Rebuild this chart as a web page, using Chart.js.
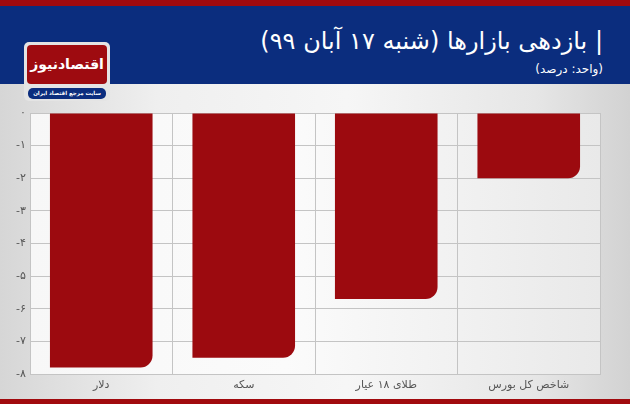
<!DOCTYPE html>
<html lang="fa">
<head>
<meta charset="utf-8">
<script src="https://cdn.jsdelivr.net/npm/chart.js@4/dist/chart.umd.min.js"></script>
<style>
  html, body { margin: 0; padding: 0; }
  body {
    width: 630px; height: 404px; overflow: hidden; position: relative;
    background: linear-gradient(to right, #d6d6d6 0%, #efefef 25%, #f6f6f6 55%, #e6e6e6 85%, #d2d2d2 100%);
    font-family: "DejaVu Sans", sans-serif;
  }
  .topline { position: absolute; left: 0; top: 0; width: 630px; height: 6px; background: #a10a0e; }
  .header { position: absolute; left: 0; top: 6px; width: 630px; height: 78px; background: #0b2d7e; }
  .title {
    position: absolute; right: 27px; top: 21px; color: #fff; font-size: 24px;
    direction: rtl; white-space: nowrap;
  }
  .unit {
    position: absolute; right: 27px; top: 56px; color: #fff; font-size: 12px;
    direction: rtl; white-space: nowrap;
  }
  .logo {
    position: absolute; left: 24px; top: 42px; width: 86px; height: 59px;
    background: #e4e4e4; border-radius: 5px;
  }
  .logo .box {
    position: absolute; left: 3px; top: 3px; width: 80px; height: 39px;
    background: #9e0b10; border-radius: 4px; color: #fff; font-weight: bold;
    font-size: 14px; text-align: center; line-height: 39px; direction: rtl;
    white-space: nowrap; overflow: hidden;
  }
  .logo .pill {
    position: absolute; left: 4px; top: 46px; width: 78px; height: 11px;
    background: #0b2d7e; border-radius: 5px; color: #fff; font-size: 5.5px;
    font-weight: bold; text-align: center; line-height: 11px; direction: rtl;
    white-space: nowrap; overflow: hidden;
  }
  .bottomline { position: absolute; left: 0; top: 399px; width: 630px; height: 5px; background: #a10a0e; }
  #wrap { position: absolute; left: 0; top: 100px; width: 630px; height: 300px; }
</style>
</head>
<body>
<div class="topline"></div>
<div class="header">
  <div class="title">| بازدهی بازارها (شنبه ۱۷ آبان ۹۹)</div>
  <div class="unit">(واحد: درصد)</div>
</div>
<div class="logo">
  <div class="box">اقتصادنیوز</div>
  <div class="pill">سایت مرجع اقتصاد ایران</div>
</div>
<div id="wrap"><canvas id="chart"></canvas></div>
<div class="bottomline"></div>

<script>
const categories = ['دلار', 'سکه', 'طلای ۱۸ عیار', 'شاخص کل بورس'];
const returns = [-7.8, -7.5, -5.7, -2.0];
const yTickValues = [-8, -7, -6, -5, -4, -3, -2, -1, 0];
const yTickLabels = ['-۸', '-۷', '-۶', '-۵', '-۴', '-۳', '-۲', '-۱', '۰'];

// light panel behind the plot
const plotBg = {
  id: 'plotBg',
  beforeDraw(chart) {
    const a = chart.chartArea, c = chart.ctx;
    const g = c.createLinearGradient(a.left, 0, a.right, 0);
    g.addColorStop(0, '#f7f7f7');
    g.addColorStop(0.45, '#fbfbfb');
    g.addColorStop(1, '#e9e9e9');
    c.save();
    c.fillStyle = g;
    c.fillRect(a.left, a.top, a.right - a.left, a.bottom - a.top);
    c.restore();
  }
};

new Chart(document.getElementById('chart'), {
  type: 'bar',
  data: {
    labels: categories,
    datasets: [{
      data: returns,
      backgroundColor: '#9c0a0f',
      barPercentage: 0.72,
      categoryPercentage: 1,
      borderRadius: { topLeft: 0, topRight: 0, bottomLeft: 0, bottomRight: 12 },
      borderSkipped: 'start'
    }]
  },
  options: {
    responsive: true,
    maintainAspectRatio: false,
    animation: false,
    layout: { padding: { top: 13, right: 30, left: 0, bottom: 0 } },
    plugins: { legend: { display: false }, tooltip: { enabled: false } },
    scales: {
      x: {
        grid: { color: '#c4c4c4', drawTicks: false, offset: true },
        border: { color: '#c4c4c4' },
        ticks: { color: '#555', font: { family: 'DejaVu Sans', size: 11 }, padding: 5 },
        afterFit(s) { s.height = 26; }
      },
      y: {
        min: -8, max: 0,
        grid: { color: '#c4c4c4', drawTicks: false },
        border: { color: '#c4c4c4' },
        afterBuildTicks(s) { s.ticks = yTickValues.map(v => ({ value: v })); },
        ticks: {
          color: '#555', font: { family: 'DejaVu Sans', size: 11 }, padding: 4,
          callback: v => yTickLabels[yTickValues.indexOf(v)]
        },
        afterFit(s) { s.width = 30; }
      }
    }
  },
  plugins: [plotBg]
});
</script>
</body>
</html>
